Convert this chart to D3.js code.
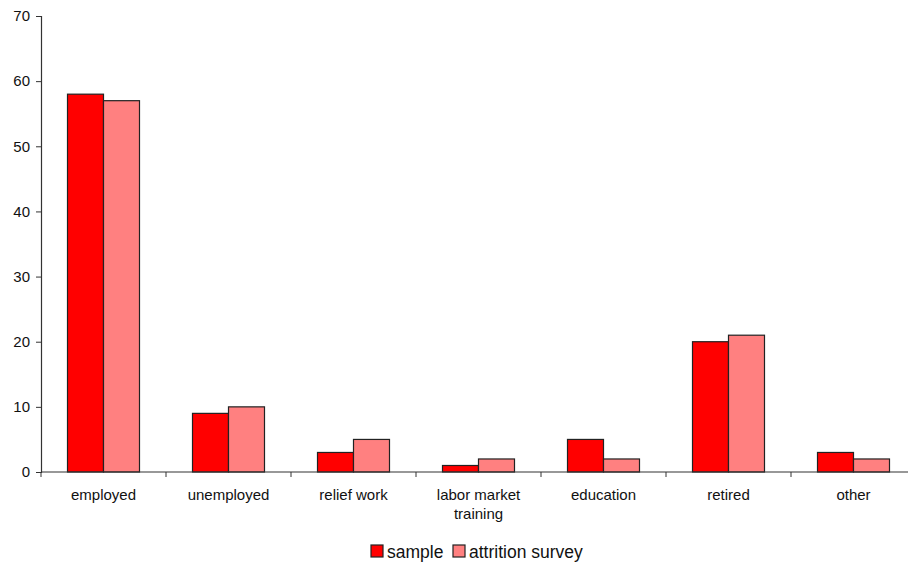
<!DOCTYPE html>
<html><head><meta charset="utf-8">
<script src="https://cdn.jsdelivr.net/npm/d3@7"></script>
<style>body{margin:0;background:#fff}svg{display:block;font-family:"Liberation Sans",Arial,sans-serif}</style>
</head><body>
<svg id="c" width="908" height="566"></svg>
<script>
const categories = ["employed","unemployed","relief work","labor market training","education","retired","other"];
const categoryLines = [["employed"],["unemployed"],["relief work"],["labor market","training"],["education"],["retired"],["other"]];
const seriesNames = ["sample","attrition survey"];
const sample = [58,9,3,1,5,20,3];
const attrition = [57,10,5,2,2,21,2];
const yTicks = [0,10,20,30,40,50,60,70];
const colors = ["#FF0000","#FF8080"];

const svg = d3.select("#c");
const x0 = d3.scaleBand().domain(categories).range([41,916]).paddingInner(0).paddingOuter(0);
const y = d3.scaleLinear().domain([0,70]).range([472,16]);
const x1 = d3.scaleBand().domain(seriesNames).range([26.5, 98.5]);
const seriesVals = [sample, attrition];

// bars
categories.forEach((c,i)=>{
  seriesNames.forEach((s,j)=>{
    svg.append("rect")
      .attr("x", x0(c)+x1(s)).attr("width", x1.bandwidth())
      .attr("y", y(seriesVals[j][i])).attr("height", y(0)-y(seriesVals[j][i]))
      .attr("fill", colors[j]).attr("stroke","#222").attr("stroke-width",1.2);
  });
});

// y axis
const ya = svg.append("g").attr("transform","translate(41,0)")
  .call(d3.axisLeft(y).tickValues(yTicks).tickSize(5).tickPadding(6));
ya.select(".domain").attr("stroke","#333").attr("stroke-width",1.2);
ya.selectAll("line").attr("stroke","#333");
ya.selectAll("text").attr("font-size",15).attr("fill","#111").attr("font-family","Liberation Sans, Arial, sans-serif");

// x axis
const xa = svg.append("g").attr("transform","translate(0,472)");
xa.append("line").attr("x1",41).attr("x2",916).attr("y1",0).attr("y2",0).attr("stroke","#333").attr("stroke-width",1.2);
const bounds = categories.map(c=>x0(c)).concat([x0(categories[categories.length-1])+x0.bandwidth()]);
bounds.forEach(b=>xa.append("line").attr("x1",b).attr("x2",b).attr("y1",0).attr("y2",5).attr("stroke","#333"));
categories.forEach((c,i)=>{
  const t = xa.append("text").attr("text-anchor","middle").attr("font-size",15).attr("fill","#111")
    .attr("x", x0(c)+x0.bandwidth()/2).attr("y", 28);
  categoryLines[i].forEach((ln,k)=>t.append("tspan").attr("x", x0(c)+x0.bandwidth()/2).attr("dy", k===0?0:19).text(ln));
});

// legend
const lg = svg.append("g");
const legendX = [371, 453];
seriesNames.forEach((s,j)=>{
  lg.append("rect").attr("x",legendX[j]).attr("y",545).attr("width",12).attr("height",12)
    .attr("fill",colors[j]).attr("stroke","#222").attr("stroke-width",1.2);
  lg.append("text").attr("x",legendX[j]+16).attr("y",558).attr("font-size",17.5).attr("fill","#111").text(s);
});
</script>
</body></html>
